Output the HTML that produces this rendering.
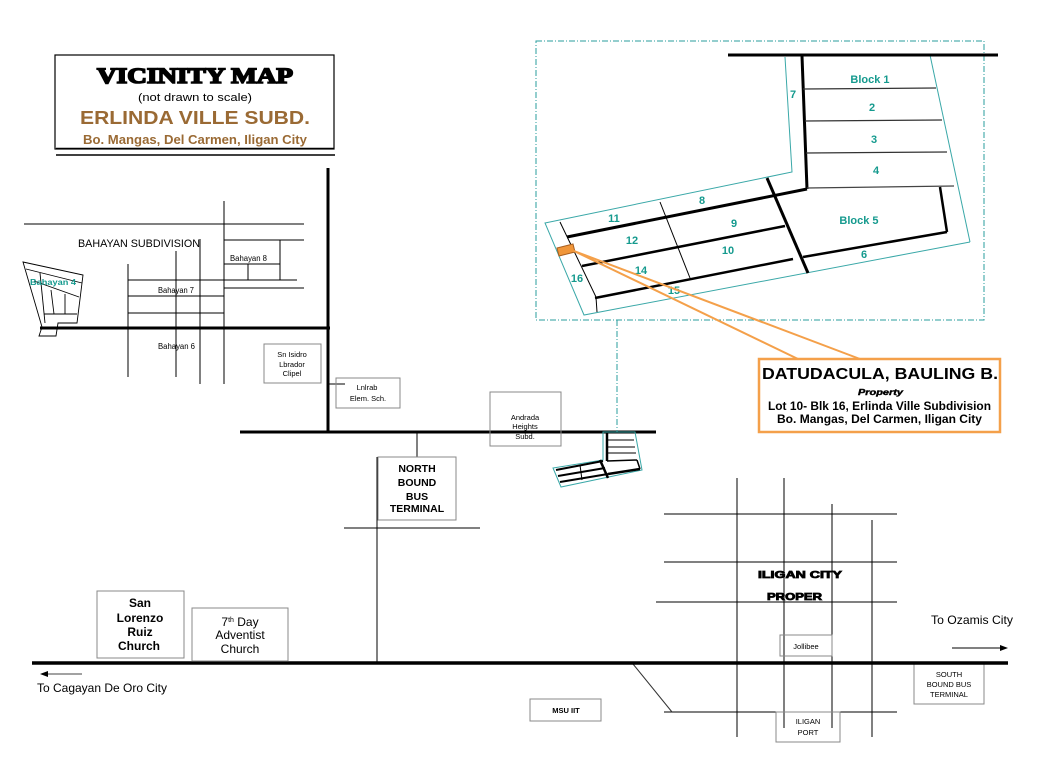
<!DOCTYPE html>
<html><head><meta charset="utf-8"><style>
html,body{margin:0;padding:0;background:#fff;}
svg{display:block;}
text{font-family:"Liberation Sans",Arial,sans-serif;}
</style></head><body>
<svg width="1056" height="768" viewBox="0 0 1056 768" xmlns="http://www.w3.org/2000/svg">
<rect width="1056" height="768" fill="#fff"/>

<!-- Title box -->
<rect x="55" y="55" width="279" height="94" fill="none" stroke="#000" stroke-width="1.2"/>
<line x1="56" y1="148.5" x2="334" y2="148.5" stroke="#000" stroke-width="1.5"/>
<line x1="56" y1="155" x2="335" y2="155" stroke="#000" stroke-width="1.5"/>
<text x="97" y="83" font-size="22" font-weight="bold" font-family="Liberation Serif, serif" stroke="#000" stroke-width="1.6" textLength="196" lengthAdjust="spacingAndGlyphs" style="font-family:'Liberation Serif',serif">VICINITY MAP</text>
<text x="138" y="101" font-size="11" textLength="114" lengthAdjust="spacingAndGlyphs">(not drawn to scale)</text>
<text x="80" y="124" font-size="18" font-weight="bold" fill="#9a6a34" textLength="230" lengthAdjust="spacingAndGlyphs">ERLINDA VILLE SUBD.</text>
<text x="83" y="144" font-size="13" font-weight="bold" fill="#9a6a34" textLength="224" lengthAdjust="spacingAndGlyphs">Bo. Mangas, Del Carmen, Iligan City</text>

<!-- Bahayan area -->
<g stroke="#000" stroke-width="1" fill="none">
<line x1="24" y1="224" x2="304" y2="224"/>
<line x1="224" y1="201" x2="224" y2="384"/>
<line x1="224" y1="240" x2="304" y2="240"/>
<line x1="224" y1="264" x2="280" y2="264"/>
<line x1="280" y1="240" x2="280" y2="280"/>
<line x1="248" y1="264" x2="248" y2="280"/>
<line x1="128" y1="280" x2="297" y2="280"/>
<line x1="224" y1="288" x2="304" y2="288"/>
<line x1="128" y1="296" x2="224" y2="296"/>
<line x1="128" y1="313" x2="224" y2="313"/>
<line x1="128" y1="264" x2="128" y2="377"/>
<line x1="176" y1="251" x2="176" y2="377"/>
<line x1="200" y1="239" x2="200" y2="384"/>
</g>
<line x1="40" y1="328" x2="330" y2="328" stroke="#000" stroke-width="3"/>
<line x1="328" y1="168" x2="328" y2="433" stroke="#000" stroke-width="3"/>
<text x="78" y="247" font-size="11" textLength="122" lengthAdjust="spacingAndGlyphs">BAHAYAN SUBDIVISION</text>
<text x="230" y="261" font-size="8" textLength="37" lengthAdjust="spacingAndGlyphs">Bahayan 8</text>
<text x="158" y="293" font-size="8" textLength="36" lengthAdjust="spacingAndGlyphs">Bahayan 7</text>
<text x="158" y="349" font-size="8" textLength="37" lengthAdjust="spacingAndGlyphs">Bahayan 6</text>

<!-- Bahayan 4 polygon -->
<g stroke="#000" stroke-width="0.9" fill="none">
<polygon points="23,262 83,275 77,323 58,323 56,336 39,336 42,327"/>
<line x1="26" y1="269" x2="82" y2="283"/>
<line x1="34" y1="281" x2="79" y2="297"/>
<line x1="40" y1="273" x2="45" y2="323"/>
<line x1="51" y1="290" x2="54" y2="314"/>
<line x1="65" y1="294" x2="65" y2="314"/>
<line x1="44" y1="314" x2="77" y2="314"/>
</g>
<text x="30" y="285" font-size="8" font-weight="bold" fill="#159a8e" textLength="46" lengthAdjust="spacingAndGlyphs">Bahayan 4</text>

<!-- Sn Isidro box -->
<rect x="264" y="344" width="57" height="39" fill="#fff" stroke="#888" stroke-width="1"/>
<g font-size="7.5" text-anchor="middle">
<text x="292" y="357">Sn Isidro</text>
<text x="292" y="367">Lbrador</text>
<text x="292" y="376">Clipel</text>
</g>

<!-- Luinab box -->
<line x1="328" y1="384" x2="345" y2="384" stroke="#000" stroke-width="1"/>
<rect x="336" y="378" width="64" height="30" fill="none" stroke="#888" stroke-width="1"/>
<g font-size="7.5" text-anchor="middle">
<text x="367" y="390">Lnlrab</text>
<text x="368" y="401">Elem. Sch.</text>
</g>

<!-- Main road 2 -->
<line x1="240" y1="432" x2="656" y2="432" stroke="#000" stroke-width="3"/>

<!-- Andrada -->
<rect x="490" y="392" width="71" height="54" fill="none" stroke="#888" stroke-width="1"/>
<g font-size="7.5" text-anchor="middle">
<text x="525" y="420">Andrada</text>
<text x="525" y="429">Heights</text>
<text x="525" y="439">Subd.</text>
</g>

<!-- North bound -->
<line x1="417" y1="432" x2="417" y2="457" stroke="#000" stroke-width="1"/>
<rect x="378" y="457" width="78" height="63" fill="none" stroke="#888" stroke-width="1"/>
<line x1="377" y1="457" x2="377" y2="663" stroke="#000" stroke-width="1"/>
<line x1="344" y1="528" x2="480" y2="528" stroke="#000" stroke-width="1"/>
<g font-size="10.5" font-weight="bold" text-anchor="middle">
<text x="417" y="472">NORTH</text>
<text x="417" y="486">BOUND</text>
<text x="417" y="500">BUS</text>
<text x="417" y="512">TERMINAL</text>
</g>

<!-- dash-dot link & frame -->
<line x1="617" y1="320" x2="617" y2="432" stroke="#2a9d9d" stroke-width="1" stroke-dasharray="6,2,1,2"/>
<rect x="536" y="41" width="448" height="279" fill="none" stroke="#2a9d9d" stroke-width="1" stroke-dasharray="6,2,1,2"/>

<!-- small subdivision near Andrada -->
<polygon points="603,432 603,460 553,468 561,487 642,470 635,432" fill="none" stroke="#3aa8a8" stroke-width="1"/>
<g stroke="#000" fill="none">
<line x1="607" y1="433" x2="607" y2="461" stroke-width="2.5"/>
<line x1="608" y1="440" x2="634" y2="440" stroke-width="1"/>
<line x1="608" y1="447" x2="635" y2="447" stroke-width="1"/>
<line x1="608" y1="453" x2="636" y2="453" stroke-width="1"/>
<line x1="607" y1="461" x2="637" y2="460" stroke-width="1.5"/>
<line x1="637" y1="460" x2="640" y2="469" stroke-width="1.5"/>
<line x1="556" y1="470" x2="603" y2="461" stroke-width="2"/>
<line x1="558" y1="476" x2="605" y2="468" stroke-width="2"/>
<line x1="560" y1="482" x2="608" y2="474" stroke-width="2"/>
<line x1="600" y1="460" x2="608" y2="478" stroke-width="2.5"/>
<line x1="608" y1="474" x2="640" y2="469" stroke-width="2.5"/>
<line x1="580" y1="465" x2="582" y2="480" stroke-width="1"/>
</g>

<!-- Inset subdivision -->
<g stroke="#3aa8a8" stroke-width="1" fill="none">
<line x1="930" y1="55" x2="970" y2="242"/>
<polyline points="785,57 792,172 545,223 584,315 970,242"/>
</g>
<line x1="728" y1="55" x2="998" y2="55" stroke="#000" stroke-width="3"/>
<g stroke="#000" fill="none">
<line x1="802" y1="56" x2="807" y2="189" stroke-width="3"/>
<line x1="803" y1="89" x2="936" y2="88" stroke-width="1.3" stroke="#333"/>
<line x1="805" y1="121" x2="942" y2="120" stroke-width="1.3" stroke="#333"/>
<line x1="806" y1="153" x2="947" y2="152" stroke-width="1.3" stroke="#333"/>
<line x1="807" y1="188" x2="954" y2="186" stroke-width="1.3" stroke="#444"/>
<line x1="807" y1="189" x2="567" y2="237" stroke-width="3"/>
<line x1="767" y1="178" x2="808" y2="273" stroke-width="3"/>
<line x1="582" y1="266" x2="785" y2="226" stroke-width="2.5"/>
<line x1="595" y1="298" x2="793" y2="259" stroke-width="2.5"/>
<line x1="803" y1="257" x2="947" y2="232" stroke-width="2.5"/>
<line x1="940" y1="187" x2="947" y2="232" stroke-width="2.5"/>
<line x1="660" y1="202" x2="690" y2="278" stroke-width="1"/>
<polyline points="560,222 596,297 597,312" stroke-width="1"/>
</g>
<polygon points="557,248 573,244 575,252 559,256" fill="#f0963a" stroke="#a85f20" stroke-width="1"/>
<g font-size="11" font-weight="bold" fill="#159a8e" text-anchor="middle">
<text x="870" y="83">Block 1</text>
<text x="872" y="111">2</text>
<text x="874" y="143">3</text>
<text x="876" y="174">4</text>
<text x="793" y="98">7</text>
<text x="702" y="204">8</text>
<text x="614" y="222">11</text>
<text x="734" y="227">9</text>
<text x="632" y="244">12</text>
<text x="728" y="254">10</text>
<text x="859" y="224">Block 5</text>
<text x="864" y="258">6</text>
<text x="641" y="274">14</text>
<text x="577" y="282">16</text>
<text x="674" y="294">15</text>
</g>

<!-- Callout -->
<g stroke="#f4a04a" stroke-width="2" fill="none">
<line x1="574" y1="251" x2="798" y2="359"/>
<line x1="574" y1="251" x2="860" y2="359"/>
</g>
<rect x="759" y="359" width="241" height="73" fill="#fff" stroke="#f4a04a" stroke-width="2.5"/>
<text x="762" y="379" font-size="16" font-weight="bold" textLength="236" lengthAdjust="spacingAndGlyphs">DATUDACULA, BAULING B.</text>
<text x="858" y="395" font-size="8" font-weight="900" font-style="italic" stroke="#000" stroke-width="0.4" textLength="45" lengthAdjust="spacingAndGlyphs">Property</text>
<text x="768" y="410" font-size="12" font-weight="bold" textLength="223" lengthAdjust="spacingAndGlyphs">Lot 10- Blk 16, Erlinda Ville Subdivision</text>
<text x="777" y="423" font-size="12" font-weight="bold" textLength="205" lengthAdjust="spacingAndGlyphs">Bo. Mangas, Del Carmen, Iligan City</text>

<!-- Iligan city proper grid -->
<g stroke="#000" stroke-width="1">
<line x1="664" y1="514" x2="897" y2="514"/>
<line x1="664" y1="562" x2="897" y2="562"/>
<line x1="656" y1="602" x2="897" y2="602"/>
<line x1="664" y1="712" x2="897" y2="712"/>
<line x1="737" y1="478" x2="737" y2="737"/>
<line x1="784" y1="478" x2="784" y2="728"/>
<line x1="832" y1="504" x2="832" y2="728"/>
<line x1="872" y1="520" x2="872" y2="737"/>
<line x1="633" y1="664" x2="672" y2="712" stroke="#333"/>
</g>
<text x="758" y="578" font-size="10" font-weight="900" stroke="#000" stroke-width="0.8" textLength="84" lengthAdjust="spacingAndGlyphs">ILIGAN CITY</text>
<text x="767" y="600" font-size="10" font-weight="900" stroke="#000" stroke-width="0.8" textLength="55" lengthAdjust="spacingAndGlyphs">PROPER</text>
<rect x="780" y="635" width="52" height="21" fill="none" stroke="#888" stroke-width="1"/>
<text x="806" y="649" font-size="7.5" text-anchor="middle">Jollibee</text>
<rect x="776" y="712" width="64" height="30" fill="none" stroke="#888" stroke-width="1"/>
<g font-size="7.5" text-anchor="middle">
<text x="808" y="724">ILIGAN</text>
<text x="808" y="735">PORT</text>
</g>

<!-- South bound -->
<rect x="914" y="664" width="70" height="40" fill="none" stroke="#888" stroke-width="1"/>
<g font-size="7.5" text-anchor="middle">
<text x="949" y="677">SOUTH</text>
<text x="949" y="687">BOUND BUS</text>
<text x="949" y="697">TERMINAL</text>
</g>
<text x="931" y="624" font-size="12" textLength="82" lengthAdjust="spacingAndGlyphs">To Ozamis City</text>
<line x1="952" y1="648" x2="1001" y2="648" stroke="#000" stroke-width="1"/>
<polygon points="1000,645 1008,648 1000,651" fill="#000"/>

<!-- Main bottom road -->
<line x1="32" y1="663" x2="1008" y2="663" stroke="#000" stroke-width="3.5"/>

<!-- MSU IIT -->
<rect x="530" y="699" width="71" height="22" fill="none" stroke="#888" stroke-width="1"/>
<text x="566" y="713" font-size="7.5" font-weight="bold" text-anchor="middle">MSU IIT</text>

<!-- Churches -->
<rect x="97" y="591" width="87" height="67" fill="#fff" stroke="#888" stroke-width="1"/>
<g font-size="12" font-weight="bold" text-anchor="middle">
<text x="140" y="607">San</text>
<text x="140" y="622">Lorenzo</text>
<text x="140" y="636">Ruiz</text>
<text x="139" y="650">Church</text>
</g>
<rect x="192" y="608" width="96" height="53" fill="#fff" stroke="#888" stroke-width="1"/>
<g font-size="12" text-anchor="middle">
<text x="240" y="626">7<tspan font-size="7" dy="-4">th</tspan><tspan dy="4"> Day</tspan></text>
<text x="240" y="639">Adventist</text>
<text x="240" y="653">Church</text>
</g>

<!-- To Cagayan -->
<line x1="47" y1="674" x2="82" y2="674" stroke="#444" stroke-width="1"/>
<polygon points="48,671 40,674 48,677" fill="#000"/>
<text x="37" y="692" font-size="12" textLength="130" lengthAdjust="spacingAndGlyphs">To Cagayan De Oro City</text>
</svg>
</body></html>
